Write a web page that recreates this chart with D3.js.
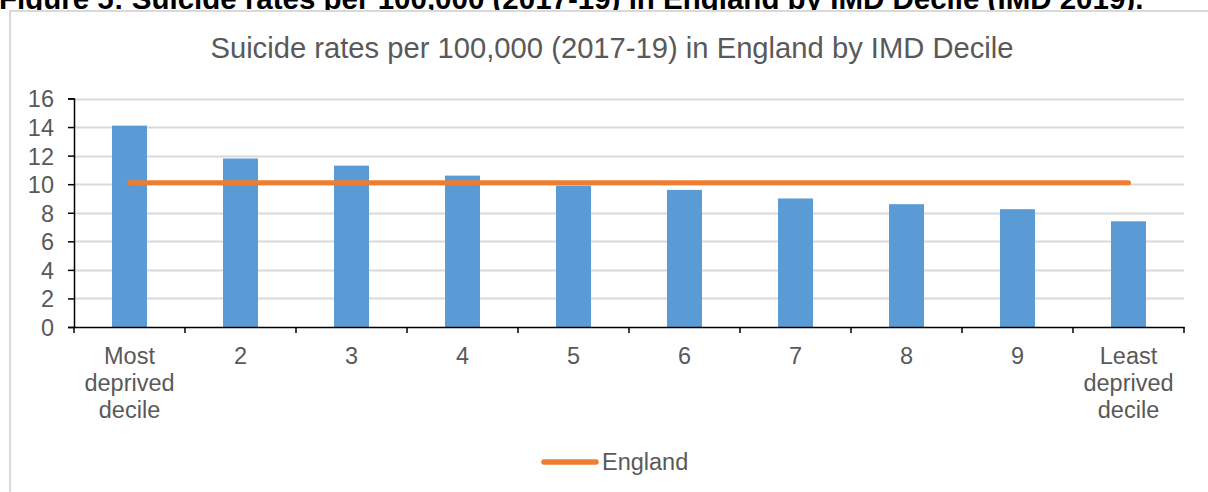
<!DOCTYPE html>
<html><head><meta charset="utf-8">
<script src="https://cdn.jsdelivr.net/npm/d3@7"></script>
<style>
html,body{margin:0;padding:0;background:#fff;overflow:hidden;}
svg{display:block;font-family:"Liberation Sans",Arial,sans-serif;}
</style></head>
<body>
<svg id="c" width="1208" height="492"></svg>
<script>
const categories = ["Most\ndeprived\ndecile","2","3","4","5","6","7","8","9","Least\ndeprived\ndecile"];
const rates = [14.1, 11.8, 11.3, 10.6, 9.9, 9.6, 9.0, 8.6, 8.25, 7.4];
const englandRate = [10.1,10.1,10.1,10.1,10.1,10.1,10.1,10.1,10.1,10.1];
const yTicks = [0,2,4,6,8,10,12,14,16];
const heading = "Figure 5: Suicide rates per 100,000 (2017-19) in England by IMD Decile (IMD 2019).";
const chartTitle = "Suicide rates per 100,000 (2017-19) in England by IMD Decile";
const legendLabel = "England";

const svg = d3.select("#c");
const m = {left:74, right:1184, top:98.5, bottom:327};
const x = d3.scaleBand().domain(d3.range(categories.length)).range([m.left, m.right]).paddingInner(0.685).paddingOuter(0.3425);
const xb = d3.scaleBand().domain(d3.range(categories.length)).range([m.left, m.right]);
const y = d3.scaleLinear().domain([0,16]).range([m.bottom, m.top]);
const FS = 23.5;

// heading (cut off at top)
svg.append("text").attr("x",-1).attr("y",9).attr("font-weight","bold").attr("font-size",29.5)
  .attr("fill","#000").text(heading);

// chart border
svg.append("rect").attr("x",10).attr("y",11).attr("width",1210).attr("height",500)
  .attr("fill","#fff").attr("stroke","#d9d9d9").attr("stroke-width",2);

// title
svg.append("text").attr("x",612).attr("y",58).attr("text-anchor","middle").attr("font-size",29.2)
  .attr("fill","#595959").text(chartTitle);

// gridlines
svg.append("g").selectAll("line").data(yTicks.slice(1)).join("line")
  .attr("x1",m.left).attr("x2",m.right).attr("y1",d=>Math.round(y(d))+0.5).attr("y2",d=>Math.round(y(d))+0.5)
  .attr("stroke","#d9d9d9").attr("stroke-width",2);

// bars
svg.append("g").selectAll("rect").data(rates).join("rect")
  .attr("x",(d,i)=>x(i)).attr("width",x.bandwidth())
  .attr("y",d=>y(d)).attr("height",d=>y(0)-y(d)).attr("fill","#5b9bd5");

// England line
const line = d3.line().x((d,i)=>xb(i)+xb.bandwidth()/2).y(d=>y(d));
svg.append("path").datum(englandRate).attr("d",line).attr("fill","none")
  .attr("stroke","#ed7d31").attr("stroke-width",5).attr("stroke-linecap","round");

// y axis
const yAxis = d3.axisLeft(y).tickValues(yTicks).tickSize(6).tickPadding(14);
const gy = svg.append("g").attr("transform",`translate(${m.left},0)`).call(yAxis);
gy.attr("font-size",FS).attr("font-family","Liberation Sans, Arial, sans-serif");
gy.select(".domain").attr("stroke","#000").attr("stroke-width",1.5);
gy.selectAll(".tick line").attr("stroke","#000").attr("stroke-width",1.5);
gy.selectAll(".tick text").attr("fill","#595959").attr("dy","0.36em");

// x axis
const xAxis = d3.axisBottom(xb).tickValues([]).tickSizeOuter(0);
const gx = svg.append("g").attr("transform",`translate(0,${m.bottom})`).call(xAxis);
gx.attr("font-size",FS).attr("font-family","Liberation Sans, Arial, sans-serif");
gx.select(".domain").attr("stroke","#000").attr("stroke-width",1.5);
const edges = d3.range(categories.length+1).map(i=> i<categories.length ? xb(i) : m.right);
gx.selectAll("line.tk").data(edges).join("line").attr("class","tk")
  .attr("x1",d=>d).attr("x2",d=>d).attr("y1",0).attr("y2",6).attr("stroke","#000").attr("stroke-width",1.5);
const lbl = gx.selectAll("text.lb").data(categories).join("text").attr("class","lb")
  .attr("text-anchor","middle").attr("fill","#595959")
  .attr("transform",(d,i)=>`translate(${xb(i)+xb.bandwidth()/2},0)`);
lbl.each(function(d){
  const t = d3.select(this);
  d.split("\n").forEach((s,k)=>t.append("tspan").attr("x",0).attr("y",37+k*27).text(s));
});

// legend
const lg = svg.append("g");
lg.append("line").attr("x1",544).attr("x2",596).attr("y1",462).attr("y2",462)
  .attr("stroke","#ed7d31").attr("stroke-width",5.5).attr("stroke-linecap","round");
lg.append("text").attr("x",602).attr("y",470).attr("font-size",FS).attr("fill","#595959").text(legendLabel);
</script>
</body></html>
